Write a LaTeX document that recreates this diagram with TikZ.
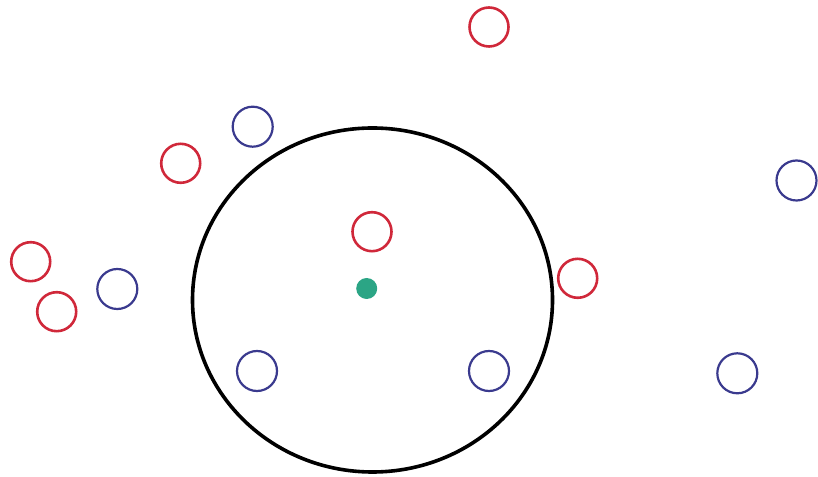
\documentclass[tikz,border=0pt]{standalone}
\usetikzlibrary{shapes.geometric}
\definecolor{ptred}{HTML}{D0283A}
\definecolor{ptblue}{HTML}{3A3A8E}
\definecolor{ptgreen}{HTML}{2BA585}
\begin{document}
\begin{tikzpicture}[x=1pt,y=1pt,
  redpt/.style={circle,draw=ptred,line width=2.6pt,minimum size=39pt,inner sep=0pt},
  bluept/.style={circle,draw=ptblue,line width=2.2pt,minimum size=40pt,inner sep=0pt},
  bigc/.style={ellipse,draw=black,line width=3.6pt,minimum width=360pt,minimum height=344pt,inner sep=0pt},
  query/.style={circle,fill=ptgreen,minimum size=21pt,inner sep=0pt}]
\useasboundingbox (0,0) rectangle (818,476);
\node[bigc] (big) at (372.5,176) {};
\node[query] (q) at (366.7,187.5) {};
% red points
\node[redpt] (r1) at (489,449) {};
\node[redpt] (r2) at (180.7,312.7) {};
\node[redpt] (r3) at (372,244.3) {};
\node[redpt] (r4) at (577.7,197.7) {};
\node[redpt] (r5) at (30.7,214.3) {};
\node[redpt] (r6) at (56.7,164.3) {};
% blue points
\node[bluept] (b1) at (252.7,349.3) {};
\node[bluept] (b2) at (796.5,295.5) {};
\node[bluept] (b3) at (117.3,187) {};
\node[bluept] (b4) at (257,105) {};
\node[bluept] (b5) at (489,105) {};
\node[bluept] (b6) at (737.3,102.7) {};
\end{tikzpicture}
\end{document}
